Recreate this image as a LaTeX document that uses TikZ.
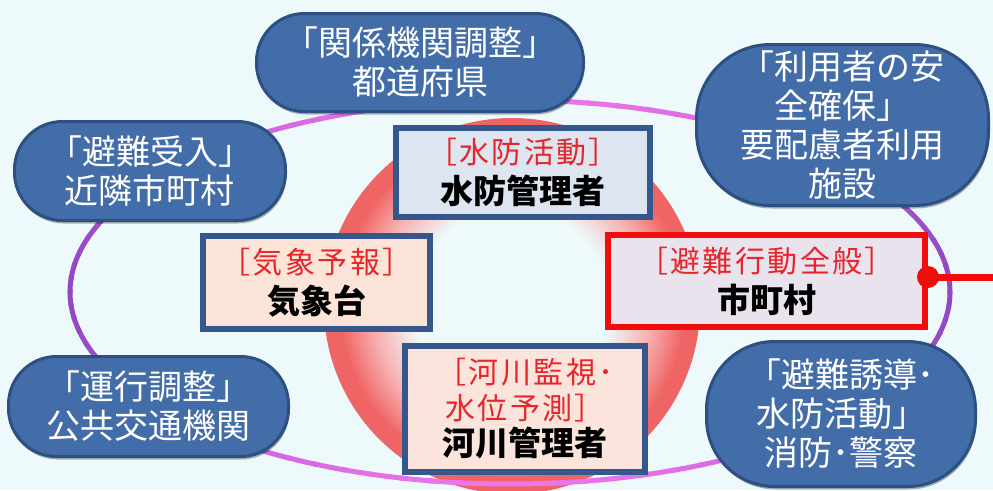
\documentclass[tikz,border=0pt]{standalone}
\usepackage{fontspec}
\newfontfamily\jp{Noto Sans CJK JP}
\usetikzlibrary{shadows}
\definecolor{bgc}{HTML}{EEF9FC}
\definecolor{ringred}{HTML}{EF6464}
\definecolor{ringmid}{HTML}{F7B0B0}
\definecolor{elpink}{HTML}{EC74EC}
\definecolor{elpurple}{HTML}{9248C4}
\definecolor{pillfill}{HTML}{436DA9}
\definecolor{pillline}{HTML}{2C5082}
\definecolor{boxline}{HTML}{35578C}
\definecolor{fillblue}{HTML}{DDE5F0}
\definecolor{fillpeach}{HTML}{FCE5D8}
\definecolor{fillpeachb}{HTML}{FBE4DB}
\definecolor{filllav}{HTML}{E9E3EE}
\definecolor{jpred}{HTML}{E8252B}
\definecolor{boxred}{HTML}{F20D0D}
\pgfdeclareradialshading{ringshade}{\pgfpoint{0bp}{0bp}}{color(0bp)=(bgc); color(13bp)=(bgc); color(18.5bp)=(ringmid); color(23bp)=(ringred); color(25bp)=(ringred); color(50bp)=(ringred)}
\newcommand\redline[1]{{\color{jpred}\fontsize{30}{40}\selectfont\addfontfeature{LetterSpace=8}#1}}
\begin{document}
\begin{tikzpicture}[x=1pt,y=-1pt,
  pill/.style={draw=pillline, fill=pillfill, line width=3pt, rounded corners=#1,
    text=white, font=\jp\fontsize{34}{39}\selectfont, align=center, inner sep=0pt,
    drop shadow={shadow xshift=1pt, shadow yshift=-3pt, opacity=0.3, fill=black}},
  infobox/.style={draw=boxline, line width=6pt, inner sep=0pt, align=center,
    font=\jp\fontsize{33}{40}\selectfont}]
\useasboundingbox (0,0) rectangle (993,490);
\fill[bgc] (0,0) rectangle (993,490);
% red ring
\shade[shading=ringshade] (512,306) circle[radius=188];
% ellipse
\foreach \a in {0,4,...,356}{
  \pgfmathsetmacro\m{100*cos(\a+2)*cos(\a+2)}
  \draw[line width=5pt, line cap=round, draw=elpurple!\m!elpink]
    (510,292) ++(\a:440 and 192) arc[start angle=\a, delta angle=4.5, x radius=440, y radius=192];
}
% pills
\node[pill=48, minimum width=327, minimum height=98] (pref) at (420,62.5)
  {「関係機関調整」\\都道府県};
\node[pill=74, minimum width=292, minimum height=161] (shisetsu) at (842.5,125)
  {「利用者の安\\全確保」\\要配慮者利用\\施設};
\node[pill=48, minimum width=271, minimum height=99] (kinrin) at (150,171)
  {「避難受入」\\近隣市町村};
\node[pill=48, minimum width=280, minimum height=100] (kotsu) at (148.5,406.5)
  {「運行調整」\\公共交通機関};
\node[pill=68, minimum width=269, minimum height=145] (shobo) at (841,414)
  {「避難誘導･\\水防活動」\\消防･警察};
% boxes
\node[infobox, fill=fillblue, minimum width=254, minimum height=89] (suibo) at (523,172.5)
  {\redline{［水防活動］}\\{\bfseries 水防管理者}};
\node[infobox, fill=fillpeach, minimum width=227, minimum height=93] (kisho) at (316.5,282.5)
  {\redline{［気象予報］}\\{\bfseries 気象台}};
\node[infobox, draw=boxred, fill=filllav, minimum width=317, minimum height=92] (shichoson) at (766.5,281)
  {\redline{［避難行動全般］}\\{\bfseries 市町村}};
\node[infobox, fill=fillpeachb, minimum width=240, minimum height=126,
  font=\jp\fontsize{33}{36}\selectfont] (kasen) at (525,409)
  {\redline{［河川監視･}\\\redline{水位予測］}\\{\bfseries 河川管理者}};
% red connector
\node[circle, fill=boxred, minimum size=22pt, inner sep=0pt] (dot) at ([yshift=4pt]shichoson.east) {};
\coordinate (edge) at (993,277);
\draw[boxred, line width=7pt] (dot.center) -- (edge);
\end{tikzpicture}
\end{document}
